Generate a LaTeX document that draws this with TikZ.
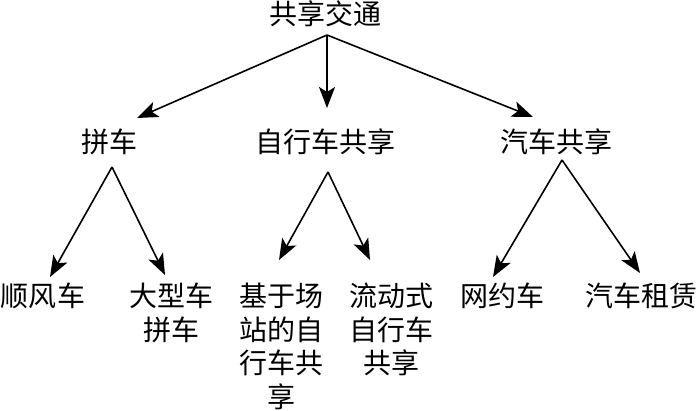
\documentclass[tikz,border=0pt]{standalone}
\usepackage{fontspec}
\newfontfamily\cjk{Noto Sans CJK SC}
\usetikzlibrary{arrows.meta}
\begin{document}
\begin{tikzpicture}[x=1pt,y=-1pt,
  lbl/.style={anchor=north,inner sep=0pt,align=center,font=\cjk\fontsize{28}{33.6}\selectfont},
  arr/.style={line width=1.6pt,-{Stealth[length=21pt,width=16pt,inset=5pt]}}]
\useasboundingbox (0,0) rectangle (700,411);
% nodes
\node[lbl] (root) at (325,1) {共享交通};
\node[lbl] (pin) at (109,129) {拼车};
\node[lbl] (bike) at (325,129) {自行车共享};
\node[lbl] (car) at (556,129) {汽车共享};
\node[lbl] (sfc) at (43,283) {顺风车};
\node[lbl] (dx) at (171,283) {大型车\\拼车};
\node[lbl] (zd) at (281,283) {基于场\\站的自\\行车共\\享};
\node[lbl] (ld) at (391,283) {流动式\\自行车\\共享};
\node[lbl] (wy) at (502,283) {网约车};
\node[lbl] (zl) at (641,283) {汽车租赁};
% connector ends
\coordinate (root-out) at (327,35);
\coordinate (pin-in) at (137,118);
\coordinate (bike-in) at (327,108);
\coordinate (car-in) at (533,117);
\coordinate (pin-out) at (112,167);
\coordinate (sfc-in) at (50,277);
\coordinate (dx-in) at (165,275);
\coordinate (bike-out) at (328,172);
\coordinate (zd-in) at (279,260);
\coordinate (ld-in) at (370,260);
\coordinate (car-out) at (562,160);
\coordinate (wy-in) at (493,277);
\coordinate (zl-in) at (640,273);
% connectors
\draw[arr] (root-out) -- (pin-in);
\draw[arr] (root-out) -- (bike-in);
\draw[arr] (root-out) -- (car-in);
\draw[arr] (pin-out) -- (sfc-in);
\draw[arr] (pin-out) -- (dx-in);
\draw[arr] (bike-out) -- (zd-in);
\draw[arr] (bike-out) -- (ld-in);
\draw[arr] (car-out) -- (wy-in);
\draw[arr] (car-out) -- (zl-in);
\end{tikzpicture}
\end{document}
